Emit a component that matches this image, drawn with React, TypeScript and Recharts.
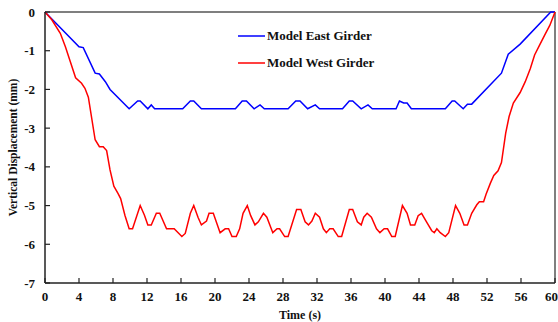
import React from 'react';
import { LineChart, Line, XAxis, YAxis, ReferenceLine, Legend } from 'recharts';

const eastTime = [0, 4.0, 4.5, 5.9, 6.4, 7.1, 7.65, 9.9, 10.9, 11.2, 12.1, 12.5, 12.9, 16.2, 17.1, 17.5, 18.4, 22.4, 23.2, 23.7, 24.6, 25.3, 25.8, 28.6, 29.5, 30.0, 30.9, 31.8, 32.3, 35.0, 35.8, 36.2, 37.2, 38.0, 38.5, 41.3, 41.7, 42.2, 42.6, 43.1, 47.1, 47.9, 48.2, 49.2, 49.7, 50.2, 53.7, 54.5, 55.9, 59.5, 60];
const eastDisp = [0, -0.9, -0.92, -1.58, -1.6, -1.8, -2.0, -2.5, -2.3, -2.3, -2.5, -2.4, -2.5, -2.5, -2.3, -2.3, -2.5, -2.5, -2.3, -2.3, -2.5, -2.4, -2.5, -2.5, -2.3, -2.3, -2.5, -2.4, -2.5, -2.5, -2.3, -2.3, -2.5, -2.4, -2.5, -2.5, -2.3, -2.35, -2.35, -2.5, -2.5, -2.3, -2.3, -2.5, -2.38, -2.38, -1.58, -1.09, -0.83, 0, 0];

const westTime = [0, 0.8, 1.8, 2.4, 3.0, 3.6, 4.3, 4.7, 5.1, 5.9, 6.4, 6.85, 7.25, 7.65, 8.1, 8.6, 8.9, 9.4, 9.9, 10.3, 11.2, 11.7, 12.1, 12.5, 13.1, 13.5, 14.3, 15.2, 16.1, 16.5, 17.1, 17.5, 18.0, 18.4, 19.0, 19.3, 19.8, 20.6, 21.2, 21.6, 22.0, 22.5, 22.9, 23.3, 23.8, 24.2, 24.7, 25.1, 25.7, 26.1, 26.8, 27.3, 27.6, 28.2, 28.6, 29.6, 30.1, 30.6, 31.0, 31.4, 31.8, 32.3, 32.75, 33.1, 33.5, 33.9, 34.5, 34.9, 35.8, 36.2, 36.75, 37.2, 37.5, 37.9, 38.4, 39.0, 39.4, 39.9, 40.3, 40.8, 41.2, 42.05, 42.6, 43.0, 43.5, 43.9, 44.3, 44.9, 45.5, 45.8, 46.1, 46.5, 47.1, 47.5, 48.3, 48.8, 49.3, 49.7, 50.2, 50.8, 51.1, 51.6, 51.9, 52.4, 52.8, 53.3, 53.7, 54.2, 54.6, 55.1, 55.9, 56.5, 57.1, 57.6, 58.2, 58.8, 59.4, 60];
const westDisp = [0, -0.2, -0.55, -0.9, -1.3, -1.7, -1.84, -1.97, -2.2, -3.3, -3.48, -3.48, -3.58, -4.08, -4.5, -4.69, -4.82, -5.25, -5.6, -5.6, -5.0, -5.25, -5.5, -5.5, -5.2, -5.2, -5.6, -5.6, -5.8, -5.72, -5.2, -5.0, -5.3, -5.5, -5.4, -5.2, -5.2, -5.7, -5.6, -5.6, -5.8, -5.8, -5.6, -5.2, -5.0, -5.26, -5.5, -5.42, -5.2, -5.3, -5.7, -5.6, -5.6, -5.8, -5.8, -5.1, -5.1, -5.42, -5.5, -5.4, -5.2, -5.3, -5.6, -5.7, -5.6, -5.6, -5.8, -5.8, -5.1, -5.1, -5.42, -5.5, -5.3, -5.2, -5.3, -5.6, -5.7, -5.6, -5.6, -5.8, -5.8, -5.0, -5.2, -5.5, -5.5, -5.26, -5.2, -5.43, -5.65, -5.7, -5.6, -5.7, -5.8, -5.7, -5.0, -5.2, -5.5, -5.5, -5.2, -4.98, -4.9, -4.9, -4.7, -4.42, -4.22, -4.1, -3.89, -3.13, -2.7, -2.35, -2.08, -1.8, -1.46, -1.11, -0.85, -0.59, -0.34, 0];

const xTicks = [0, 4, 8, 12, 16, 20, 24, 28, 32, 36, 40, 44, 48, 52, 56, 60];
const yTicks = [-7, -6, -5, -4, -3, -2, -1, 0];
const seriesNames = ['Model East Girder', 'Model West Girder'];
const seriesColors = ['#0000ff', '#ff0000'];

const eastData = eastTime.map((t, i) => ({ t, v: eastDisp[i] }));
const westData = westTime.map((t, i) => ({ t, v: westDisp[i] }));

const FONT = '"Liberation Serif", "Times New Roman", serif';
const tickStyle = { fontFamily: FONT, fontWeight: 700, fontSize: 13, fill: '#111' };

const YLabel = (props: any) => {
  const vb = props.viewBox || {};
  const cx = vb.x + 13;
  const cy = vb.y + vb.height / 2;
  return (
    <text x={cx} y={cy} transform={`rotate(-90, ${cx}, ${cy})`} textAnchor="middle" dominantBaseline="central"
      style={{ fontFamily: FONT, fontWeight: 700, fontSize: 11.5, fill: '#111' }}>
      Vertical Displacement (mm)
    </text>
  );
};

const LegendContent = () => (
  <div style={{ fontFamily: FONT, fontWeight: 700, fontSize: 13, color: '#111' }}>
    {seriesNames.map((n, i) => (
      <div key={n} style={{ display: 'flex', alignItems: 'center', height: 27 }}>
        <svg width={28} height={4} style={{ marginRight: 1 }}>
          <line x1={0} y1={2} x2={27} y2={2} stroke={seriesColors[i]} strokeWidth={1.5} />
        </svg>
        <span>{n}</span>
      </div>
    ))}
  </div>
);

export default function App() {
  return (
    <div style={{ position: 'absolute', left: 0, top: 0, background: '#fff' }}>
      <LineChart width={558} height={322} margin={{ top: 12, right: 3, bottom: 0, left: 0 }}>
        <XAxis dataKey="t" type="number" domain={[0, 60]} ticks={xTicks} allowDuplicatedCategory={false}
          height={39} tickSize={-5} tickMargin={14} tick={tickStyle}
          axisLine={{ stroke: '#222', strokeWidth: 1.5 }} tickLine={{ stroke: '#222', strokeWidth: 1.2 }}
          label={{ value: 'Time (s)', position: 'insideBottom', offset: 3, style: { fontFamily: FONT, fontWeight: 700, fontSize: 12, fill: '#111' } }} />
        <YAxis type="number" domain={[-7, 0]} ticks={yTicks} width={45} tickSize={-5} tickMargin={15} tick={tickStyle}
          axisLine={{ stroke: '#222', strokeWidth: 1.5 }} tickLine={{ stroke: '#222', strokeWidth: 1.2 }}
          label={<YLabel />} />
        <ReferenceLine y={0} stroke="#555" strokeWidth={1.5} />
        <ReferenceLine x={60} stroke="#555" strokeWidth={1.5} />
        <Legend layout="vertical" align="center" verticalAlign="middle" content={<LegendContent />}
          wrapperStyle={{ left: 238, top: 22, width: 160, height: 54 }} />
        <Line data={eastData} dataKey="v" name={seriesNames[0]} stroke={seriesColors[0]} strokeWidth={1.5} dot={false} isAnimationActive={false} />
        <Line data={westData} dataKey="v" name={seriesNames[1]} stroke={seriesColors[1]} strokeWidth={1.5} dot={false} isAnimationActive={false} />
      </LineChart>
    </div>
  );
}
